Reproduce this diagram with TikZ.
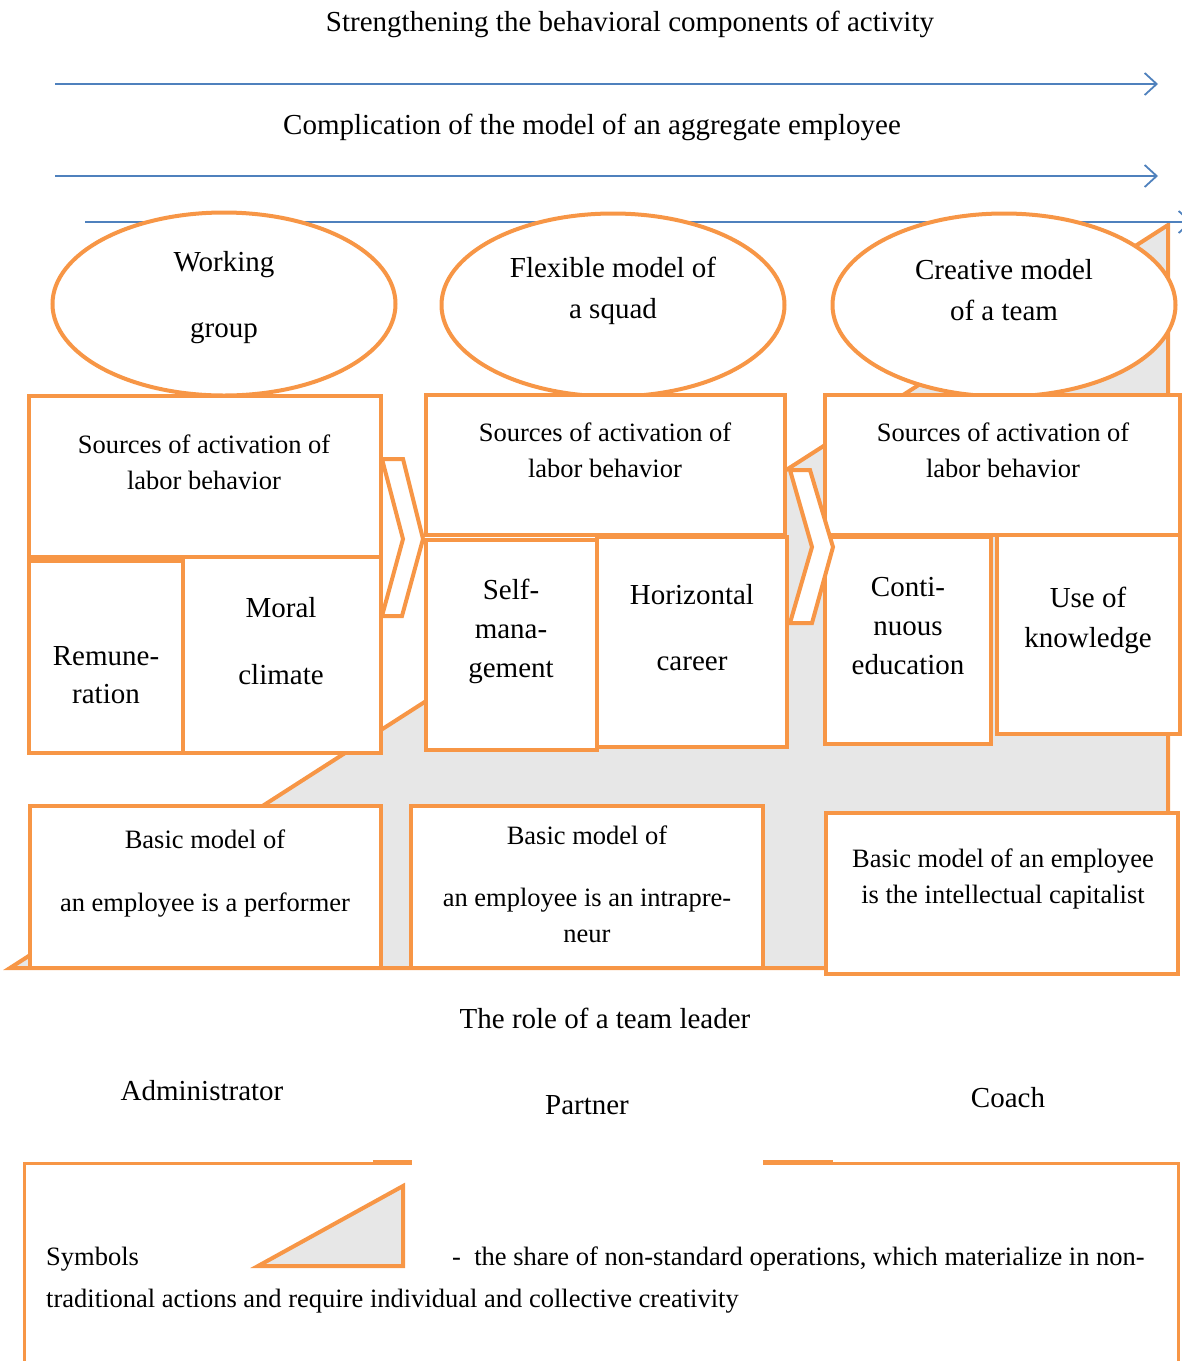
\documentclass[tikz,border=0pt]{standalone}
\usepackage{fontspec}
\setmainfont{Liberation Serif}
\usetikzlibrary{arrows.meta,shapes.geometric}
\definecolor{frame}{HTML}{F79646}
\definecolor{flow}{HTML}{4F81BD}
\definecolor{share}{HTML}{E7E7E7}
\tikzset{
  box/.style={draw=frame, line width=4pt, fill=white, inner sep=0pt},
  oval/.style={ellipse, draw=frame, line width=4pt, fill=white, inner sep=0pt,
    minimum width=343pt, minimum height=183pt},
  chev/.style={draw=frame, line width=4pt, fill=white, line join=miter},
  wedge/.style={draw=frame, line width=4pt, fill=share, line join=miter},
  legline/.style={draw=frame, line width=3pt},
  flowline/.style={draw=flow, line width=1.8pt, -{Straight Barb[length=12pt,width=22pt]}},
  big/.style={font=\fontsize{29}{36}\selectfont, align=center},
  small/.style={font=\fontsize{26.5}{36}\selectfont, align=center},
}

\begin{document}
\begin{tikzpicture}[x=1pt,y=-1pt]
  \useasboundingbox (0,0) rectangle (1182,1361);

  % share of non-standard operations
  \draw[wedge] (10,968) -- (1168,225) -- (1168,968) -- cycle;

  % trend arrows
  \coordinate (s1) at (55,84);   \coordinate (e1) at (1158,84);
  \coordinate (s2) at (55,176);  \coordinate (e2) at (1158,176);
  \coordinate (s3) at (85,222);  \coordinate (e3) at (1192,222);
  \node[big] (trend1) at (630,24) {Strengthening the behavioral components of activity};
  \node[big] (trend2) at (592,127) {Complication of the model of an aggregate employee};
  \draw[flowline] (s1) -- (e1);
  \draw[flowline] (s2) -- (e2);
  \draw[flowline] (s3) -- (e3);

  % team models
  \node[oval] (wgroup) at (224,304) {};
  \node[oval] (squad) at (613,305) {};
  \node[oval] (team) at (1004,305) {};
  \node[big] at (224,298) {Working\\[30pt]group};
  \node[big] at (613,290.5) {Flexible model of\\[5pt]a squad};
  \node[big] at (1004,290.5) {Creative model\\[5pt]of a team};

  % sources of activation
  \node[box, minimum width=352pt, minimum height=161pt] (src1) at (205,476.5) {};
  \node[box, minimum width=154pt, minimum height=192pt] (pay) at (106,657) {};
  \node[box, minimum width=198pt, minimum height=196pt] (moral) at (282,655) {};
  \node[box, minimum width=359pt, minimum height=140pt] (src2) at (605.5,465) {};
  \node[box, minimum width=171pt, minimum height=210pt] (selfm) at (511.5,645) {};
  \node[box, minimum width=190pt, minimum height=210pt] (hcareer) at (692,642) {};
  \node[box, minimum width=355pt, minimum height=140pt] (src3) at (1002.5,465) {};
  \node[box, minimum width=166pt, minimum height=207pt] (edu) at (908,640.5) {};
  \node[box, minimum width=183pt, minimum height=199pt] (know) at (1088.5,634.5) {};

  \node[small] at (204,462.5) {Sources of activation of\\labor behavior};
  \node[small] at (605,450) {Sources of activation of\\labor behavior};
  \node[small] at (1003,450) {Sources of activation of\\labor behavior};
  \node[big] at (106,675) {Remune-\\[2pt]ration};
  \node[big] at (281,641.5) {Moral\\[31pt]climate};
  \node[big] at (511,631) {Self-\\[3pt]mana-\\[3pt]gement};
  \node[big] at (692,628) {Horizontal\\[30pt]career};
  \node[big] at (908,626) {Conti-\\[3pt]nuous\\[3pt]education};
  \node[big] at (1088,620) {Use of\\[4pt]knowledge};

  % transitions
  \draw[chev] (382,459) -- (403,459) -- (423,539) -- (402,616) -- (382,616) -- (403,539) -- cycle;
  \draw[chev] (790,470) -- (810,470) -- (833,547) -- (812,623) -- (790,623) -- (812,547) -- cycle;

  % basic models of an employee
  \node[box, minimum width=351pt, minimum height=162pt] (basic1) at (205.5,887) {};
  \node[box, minimum width=352pt, minimum height=162pt] (basic2) at (587,887) {};
  \node[box, minimum width=352pt, minimum height=161pt] (basic3) at (1002,893.5) {};
  \node[small] at (205,873.5) {Basic model of\\[27pt]an employee is a performer};
  \node[small] at (587,884) {Basic model of\\[26pt]an employee is an intrapre-\\neur};
  \node[small] at (1003,879) {Basic model of an employee\\is the intellectual capitalist};

  % roles
  \node[big] (role) at (605,1018) {The role of a team leader};
  \node[big] (admin) at (202,1091) {Administrator};
  \node[big] (partner) at (587,1105) {Partner};
  \node[big] (coach) at (1008,1098) {Coach};

  % legend
  \draw[legline] (24,1375) -- (24,1163) -- (412,1163);
  \draw[legline] (763,1163) -- (1178,1163) -- (1178,1375);
  \draw[frame, line width=5pt] (373,1162) -- (412,1162);
  \draw[frame, line width=5pt] (763,1162) -- (833,1162);
  \draw[wedge] (258,1266) -- (403,1186) -- (403,1266) -- cycle;
  \node[small, anchor=base west, inner sep=0pt] (sym) at (46,1265) {Symbols};
  \node[small, anchor=base west, inner sep=0pt] (leg1) at (452,1265)
    {-\enspace the share of non-standard operations, which materialize in non-};
  \node[small, anchor=base west, inner sep=0pt] (leg2) at (46,1307)
    {traditional actions and require individual and collective creativity};
\end{tikzpicture}
\end{document}
